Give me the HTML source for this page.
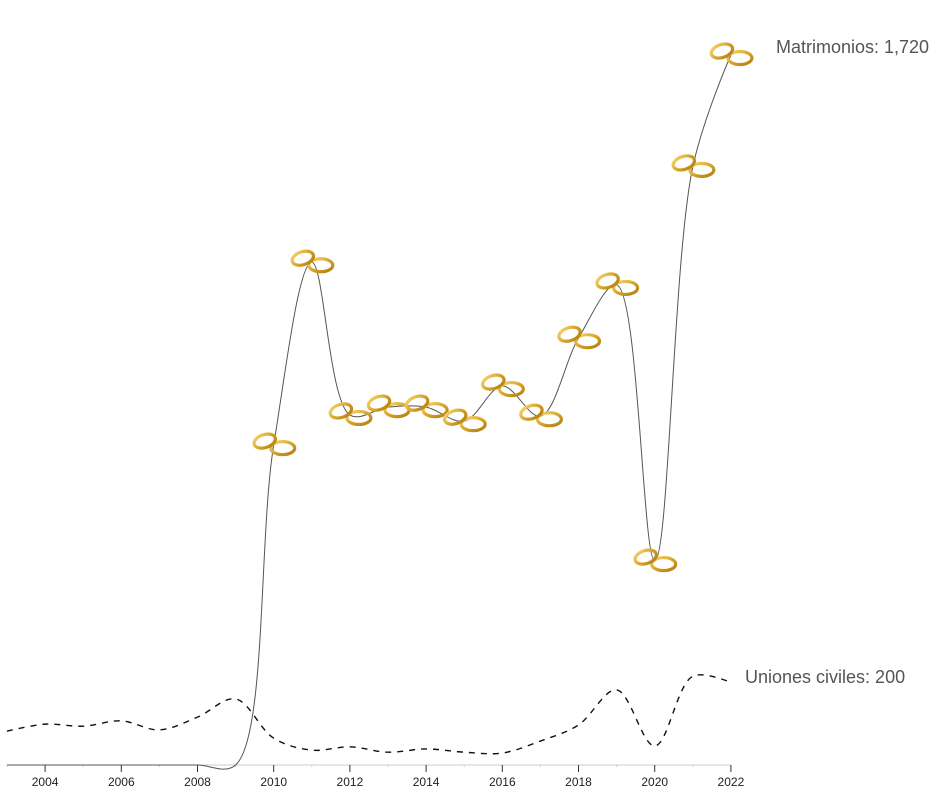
<!DOCTYPE html>
<html><head><meta charset="utf-8"><style>
html,body{margin:0;padding:0;background:#fff;}
svg{display:block;font-family:"Liberation Sans",sans-serif;}
</style></head><body>
<svg id="chart" width="940" height="806" viewBox="0 0 940 806">
<defs>
<linearGradient id="gold" x1="0" y1="0" x2="1" y2="1">
<stop offset="0" stop-color="#f7d770"/><stop offset="0.5" stop-color="#d9a52a"/><stop offset="1" stop-color="#b07d12"/>
</linearGradient>
</defs>
<g id="axis"></g>
<g id="lines"></g>
<g id="rings"></g>
<text x="776" y="53" font-size="18" fill="#555">Matrimonios: 1,720</text>
<text x="745" y="683" font-size="18" fill="#555">Uniones civiles: 200</text>
</svg>
<script>
const years = [2003,2004,2005,2006,2007,2008,2009,2010,2011,2012,2013,2014,2015,2016,2017,2018,2019,2020,2021,2022];
const matrimonios = [0,0,0,0,0,0,0,775,1218,848,867,867,833,918,845,1034,1163,494,1449,1720];
const uniones = [82,99,94,107,85,116,160,65,36,44,31,39,31,29,58,97,182,46,215,200];
const tickYears = [2004,2006,2008,2010,2012,2014,2016,2018,2020,2022];
const NS='http://www.w3.org/2000/svg';
const x = y => 7 + (y-2003)*38.1;
const yS = v => 765 - v*(710/1720);
function mk(tag, attrs, parent){const e=document.createElementNS(NS,tag);for(const k in attrs)e.setAttribute(k,attrs[k]);parent.appendChild(e);return e;}
// centripetal Catmull-Rom (alpha 0.5), as d3.curveCatmullRom
function catmull(pts){
  const a=0.5, eps=1e-12;
  let d='M'+pts[0][0]+','+pts[0][1];
  for(let i=0;i<pts.length-1;i++){
    const p0=pts[i-1]||pts[i],p1=pts[i],p2=pts[i+1],p3=pts[i+2]||pts[i+1];
    const l01=Math.hypot(p1[0]-p0[0],p1[1]-p0[1]),l12=Math.hypot(p2[0]-p1[0],p2[1]-p1[1]),l23=Math.hypot(p3[0]-p2[0],p3[1]-p2[1]);
    const l01a=Math.pow(l01,a),l01_2a=Math.pow(l01,2*a),l12a=Math.pow(l12,a),l12_2a=Math.pow(l12,2*a),l23a=Math.pow(l23,a),l23_2a=Math.pow(l23,2*a);
    let x1=p1[0],y1=p1[1],x2=p2[0],y2=p2[1];
    if(l01a>eps){const A=2*l01_2a+3*l01a*l12a+l12_2a,n=3*l01a*(l01a+l12a);x1=(p1[0]*A-p0[0]*l12_2a+p2[0]*l01_2a)/n;y1=(p1[1]*A-p0[1]*l12_2a+p2[1]*l01_2a)/n;}
    if(l23a>eps){const B=2*l23_2a+3*l23a*l12a+l12_2a,m=3*l23a*(l23a+l12a);x2=(p2[0]*B+p1[0]*l23_2a-p3[0]*l12_2a)/m;y2=(p2[1]*B+p1[1]*l23_2a-p3[1]*l12_2a)/m;}
    d+=' C'+x1+','+y1+' '+x2+','+y2+' '+p2[0]+','+p2[1];
  }
  return d;
}
const axis=document.getElementById('axis');
const al=mk('line',{x1:x(2003),x2:x(2022),y1:765,y2:765,stroke:'#ccc','stroke-width':1},axis);


years.forEach(yr=>{mk('line',{x1:x(yr),x2:x(yr),y1:765,y2:767,stroke:'#ccc'},axis);});
tickYears.forEach(yr=>{
  const t=mk('line',{x1:x(yr),x2:x(yr),y1:765,y2:772,stroke:'#333','stroke-width':1},axis);
  
  
  const l=mk('text',{x:x(yr),y:786,'text-anchor':'middle','font-size':12,fill:'#222'},axis);
  l.textContent=yr;
  
  
});
const lines=document.getElementById('lines');
const mp=mk('path',{d:catmull(years.map((yr,i)=>[x(yr),yS(matrimonios[i])])),fill:'none',stroke:'#555','stroke-width':1},lines);


const up=mk('path',{d:catmull(years.map((yr,i)=>[x(yr),yS(uniones[i])])),fill:'none',stroke:'#111','stroke-width':1.4,'stroke-dasharray':'6,6'},lines);


const rings=document.getElementById('rings');
years.forEach((yr,i)=>{
  if(yr<2010) return;
  const g=mk('g',{transform:'translate('+x(yr)+','+yS(matrimonios[i])+')'},rings);
  
  
  mk('ellipse',{cx:9,cy:3,rx:12,ry:6.5,fill:'none',stroke:'url(#gold)','stroke-width':3.2},g);
  mk('ellipse',{cx:-9,cy:-4,rx:11,ry:6.5,fill:'none',stroke:'url(#gold)','stroke-width':3.2,transform:'rotate(-18 -9 -4)'},g);
});
</script>
</body></html>
